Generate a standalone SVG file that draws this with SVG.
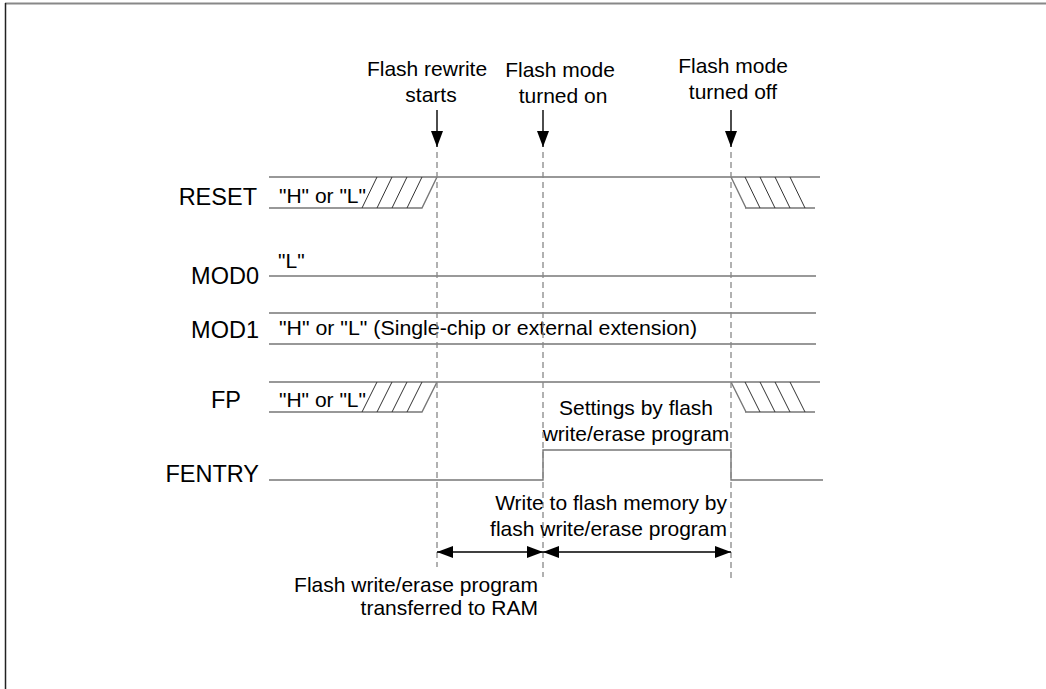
<svg xmlns="http://www.w3.org/2000/svg" width="1046" height="689" viewBox="0 0 1046 689">
<defs>
<style>
text{font-family:"Liberation Sans",Arial,sans-serif;fill:#000}
.lbl{font-size:23.5px;text-anchor:end}
.t{font-size:21px}
.c{text-anchor:middle}
.e{text-anchor:end}
.sig{stroke:#777;stroke-width:1.4;fill:none}
.hat{stroke:#333;stroke-width:1;fill:none}
.dash{stroke:#888;stroke-width:1.3;stroke-dasharray:6,4;fill:none}
.arr{stroke:#000;stroke-width:1.4;fill:none}
</style>
<marker id="ah" viewBox="0 0 16 12" refX="16" refY="6" markerWidth="16" markerHeight="12" markerUnits="userSpaceOnUse" orient="auto-start-reverse">
<path d="M0,0 L16,6 L0,12 Z" fill="#000"/>
</marker>
</defs>
<rect width="1046" height="689" fill="#fff"/>
<g id="frame">
<line x1="5" y1="3.5" x2="1046" y2="3.5" stroke="#888" stroke-width="2"/>
<line x1="5.5" y1="3" x2="5.5" y2="689" stroke="#222" stroke-width="1.5"/>
</g>
<g id="labels">
<text class="lbl" x="257" y="205">RESET</text>
<text class="lbl" x="259" y="284">MOD0</text>
<text class="lbl" x="259" y="338">MOD1</text>
<text class="lbl" x="241" y="408">FP</text>
<text class="lbl" x="259" y="482">FENTRY</text>
</g>
<g id="sig-reset">
<path class="sig" d="M269,177 H820 M269,208 H422 L437,177 M745,208 H815 M731,177 L746,208"/>
<path class="hat" d="M362,208 L377,177 M377,208 L392,177 M392,208 L407,177 M407,208 L422,177 M745,177 L760,208 M760,177 L775,208 M775,177 L790,208 M790,177 L805,208"/>
<text class="t" x="279" y="203">"H" or "L"</text>
</g>
<g id="sig-mod0">
<path class="sig" d="M269,276 H816"/>
<text class="t" x="278" y="268">"L"</text>
</g>
<g id="sig-mod1">
<path class="sig" d="M269,313 H816 M269,344 H816"/>
<text class="t" x="279" y="335" textLength="418" lengthAdjust="spacingAndGlyphs">"H" or "L" (Single-chip or external extension)</text>
</g>
<g id="sig-fp">
<path class="sig" d="M269,382 H820 M269,412 H422 L437,382 M745,412 H815 M731,382 L746,412"/>
<path class="hat" d="M362,412 L377,382 M377,412 L392,382 M392,412 L407,382 M407,412 L422,382 M745,382 L760,412 M760,382 L775,412 M775,382 L790,412 M790,382 L805,412"/>
<text class="t" x="279" y="407">"H" or "L"</text>
</g>
<g id="sig-fentry">
<path class="sig" d="M269,480 H543 V450 H731 V480 H823"/>
<text class="t c" x="636" y="415">Settings by flash</text>
<text class="t c" x="636" y="441">write/erase program</text>
</g>
<g id="events">
<text class="t c" x="427" y="76">Flash rewrite</text>
<text class="t c" x="431" y="102">starts</text>
<text class="t c" x="560" y="77">Flash mode</text>
<text class="t c" x="563" y="103">turned on</text>
<text class="t c" x="733" y="73">Flash mode</text>
<text class="t c" x="733" y="99">turned off</text>
</g>
<g id="connectors">
<line class="arr" x1="437" y1="110" x2="437" y2="147" marker-end="url(#ah)"/>
<line class="arr" x1="543" y1="110" x2="543" y2="147" marker-end="url(#ah)"/>
<line class="arr" x1="731" y1="110" x2="731" y2="147" marker-end="url(#ah)"/>
<line class="dash" x1="437" y1="152" x2="437" y2="567"/>
<line class="dash" x1="543" y1="152" x2="543" y2="577"/>
<line class="dash" x1="731" y1="152" x2="731" y2="580"/>
<line class="arr" x1="437" y1="552" x2="543" y2="552" marker-start="url(#ah)" marker-end="url(#ah)"/>
<line class="arr" x1="543" y1="552" x2="731" y2="552" marker-start="url(#ah)" marker-end="url(#ah)"/>
</g>
<g id="spans">
<text class="t e" x="727" y="510">Write to flash memory by</text>
<text class="t e" x="727" y="536">flash write/erase program</text>
<text class="t e" x="538" y="592">Flash write/erase program</text>
<text class="t e" x="538" y="615">transferred to RAM</text>
</g>
</svg>
